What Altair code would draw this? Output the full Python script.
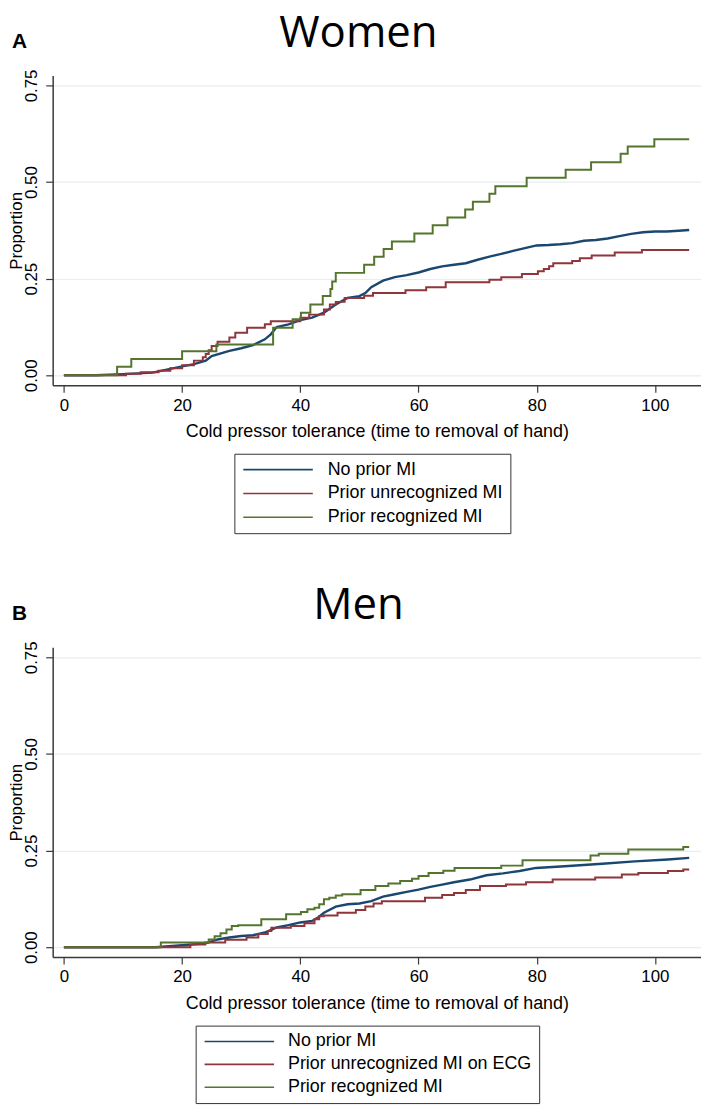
import altair as alt
import pandas as pd

# ---------------- data ----------------
names_women = ["No prior MI", "Prior unrecognized MI", "Prior recognized MI"]
names_men = ["No prior MI", "Prior unrecognized MI on ECG", "Prior recognized MI"]
line_colors = ["#1a476f", "#90353b", "#55752f"]
x_ticks = [0, 20, 40, 60, 80, 100]
y_ticks = [0, 0.25, 0.5, 0.75]

# Women (panel A)
w_none_t = [0, 5.4, 10, 15, 20, 22, 24, 25, 28, 30, 32, 34, 35, 36, 38, 40, 42, 44, 46, 48, 50, 51, 52, 54,
            56, 58, 60, 62, 64, 66, 68, 70, 72, 74, 76, 78, 80, 82, 84, 86, 88, 90, 92, 94, 96, 98, 100, 102,
            104, 105.8]
w_none_p = [0, 0, 0.003, 0.007, 0.023, 0.029, 0.038, 0.050, 0.063, 0.070, 0.078, 0.093, 0.106, 0.125, 0.132,
            0.143, 0.149, 0.162, 0.183, 0.200, 0.205, 0.213, 0.228, 0.245, 0.254, 0.259, 0.266, 0.275, 0.282,
            0.286, 0.290, 0.299, 0.307, 0.314, 0.322, 0.329, 0.336, 0.337, 0.339, 0.342, 0.348, 0.350, 0.354,
            0.360, 0.366, 0.370, 0.372, 0.372, 0.374, 0.376]
w_unrec_t = [0, 9.4, 10.5, 13, 16, 18, 20, 22, 23.5, 24, 24.5, 25, 26, 28, 29, 31, 34, 35, 40, 41.5, 44, 45,
             46, 47.5, 50.8, 52.3, 57.8, 61.3, 64.6, 72.0, 74.0, 77.5, 80.2, 81.2, 82.1, 82.8, 86.0, 87.3,
             89.3, 93.2, 97.8, 105.8]
w_unrec_p = [0, 0, 0.004, 0.008, 0.012, 0.018, 0.026, 0.038, 0.047, 0.055, 0.065, 0.076, 0.087, 0.098, 0.110,
             0.123, 0.132, 0.140, 0.149, 0.157, 0.170, 0.183, 0.190, 0.200, 0.206, 0.213, 0.220, 0.228, 0.241,
             0.247, 0.254, 0.262, 0.269, 0.275, 0.282, 0.290, 0.296, 0.303, 0.310, 0.318, 0.324, 0.324]
w_rec_t = [0, 9.0, 11.4, 20.0, 25.8, 35.4, 38.7, 40.1, 41.7, 43.8, 45.1, 45.4, 46.0, 50.8, 52.5, 54.1, 55.5,
           59.3, 62.4, 64.9, 67.9, 69.2, 72.0, 73.0, 78.3, 84.9, 89.2, 94.2, 95.4, 99.9, 105.8]
w_rec_p = [0, 0.022, 0.042, 0.062, 0.080, 0.123, 0.145, 0.162, 0.183, 0.205, 0.223, 0.243, 0.265, 0.286, 0.307,
           0.327, 0.346, 0.367, 0.388, 0.408, 0.429, 0.449, 0.470, 0.489, 0.511, 0.532, 0.551, 0.573, 0.592,
           0.611, 0.611]

# Men (panel B)
m_none_t = [0, 15.5, 20, 24, 26, 28, 30, 32, 34, 36, 38, 40, 42, 43, 44, 46, 48, 50, 52, 54, 56, 58, 60, 62,
            64, 66, 68.7, 71.5, 74.3, 77.1, 79.9, 85.4, 91.1, 96.6, 102.2, 105.8]
m_none_p = [0, 0, 0.005, 0.010, 0.020, 0.025, 0.029, 0.031, 0.038, 0.051, 0.057, 0.064, 0.068, 0.077, 0.089,
            0.105, 0.111, 0.113, 0.119, 0.131, 0.137, 0.143, 0.149, 0.156, 0.162, 0.168, 0.175, 0.186, 0.191,
            0.197, 0.205, 0.210, 0.216, 0.222, 0.227, 0.231]
m_unrec_t = [0, 21.4, 23.9, 27.3, 30.9, 32.9, 34.5, 35.1, 38.4, 40.7, 42.4, 43.2, 44.0, 46.3, 49.4, 51.0, 52.4,
             53.8, 61.1, 64, 66, 68, 70.4, 74.8, 78.2, 82.7, 89.9, 94.4, 97.2, 102.2, 104.8, 105.8]
m_unrec_p = [0, 0.007, 0.012, 0.019, 0.025, 0.034, 0.042, 0.050, 0.055, 0.062, 0.072, 0.080, 0.082, 0.089,
             0.096, 0.105, 0.113, 0.119, 0.128, 0.135, 0.140, 0.148, 0.158, 0.162, 0.168, 0.175, 0.180, 0.188,
             0.192, 0.197, 0.201, 0.201]
m_rec_t = [0, 16.4, 24.5, 25.5, 26.5, 27.5, 28.4, 29.5, 33.4, 37.6, 40.1, 41.2, 42.4, 43.2, 44.0, 44.9, 46.0,
           47.1, 50.2, 52.7, 54.9, 56.9, 58.9, 60.0, 61.7, 64.2, 66.1, 74.0, 77.6, 89.1, 90.5, 95.5, 104.8, 105.8]
m_rec_p = [0, 0.012, 0.020, 0.028, 0.036, 0.046, 0.055, 0.057, 0.072, 0.085, 0.091, 0.098, 0.102, 0.111, 0.124,
           0.128, 0.134, 0.137, 0.148, 0.158, 0.165, 0.171, 0.177, 0.184, 0.192, 0.198, 0.205, 0.211, 0.225,
           0.237, 0.242, 0.253, 0.259, 0.259]


def build_frame(names, series):
    rows = []
    for name, (ts, ps) in zip(names, series):
        for i, (t, p) in enumerate(zip(ts, ps)):
            rows.append({"series": name, "t": t, "p": p, "i": i})
    return pd.DataFrame(rows)


df_women = build_frame(names_women, [(w_none_t, w_none_p), (w_unrec_t, w_unrec_p), (w_rec_t, w_rec_p)])
df_men = build_frame(names_men, [(m_none_t, m_none_p), (m_unrec_t, m_unrec_p), (m_rec_t, m_rec_p)])

AX_COL = "#3a3a3a"
PLOT_W = 653
PLOT_H = 312


def panel(df, names, letter, title, lx, ly, label_offset, lpad, row_pad):
    x = alt.X("t:Q",
              scale=alt.Scale(domain=[-1.9, 107.8], nice=False, zero=False),
              axis=alt.Axis(values=x_ticks, title="Cold pressor tolerance (time to removal of hand)",
                            grid=False, tickSize=7, tickWidth=1.2, tickColor=AX_COL,
                            domainColor=AX_COL, domainWidth=1.5,
                            labelFont="Liberation Sans", labelFontSize=17, labelColor="black",
                            labelPadding=5, labelFlush=False,
                            titleFont="Liberation Sans", titleFontSize=18, titleFontWeight="normal",
                            titleColor="black", titlePadding=10))
    y = alt.Y("p:Q",
              scale=alt.Scale(domain=[-0.0257, 0.7757], nice=False, zero=False),
              axis=alt.Axis(values=y_ticks, format=".2f", title="Proportion",
                            grid=True, gridColor="#e6eef1", gridWidth=1.2,
                            tickSize=7, tickWidth=1.2, tickColor=AX_COL,
                            domainColor=AX_COL, domainWidth=1.5,
                            labelAngle=270, labelAlign="center", labelBaseline="bottom",
                            labelFont="Liberation Sans", labelFontSize=17, labelColor="black",
                            labelPadding=5, labelFlush=False,
                            titleFont="Liberation Sans", titleFontSize=17, titleFontWeight="normal",
                            titleColor="black", titlePadding=-3))
    color = alt.Color("series:N", sort=names,
                      scale=alt.Scale(domain=names, range=line_colors),
                      legend=alt.Legend(title=None, orient="none", legendX=lx, legendY=ly,
                                        direction="vertical", symbolType="M-1,0H9", symbolSize=196,
                                        symbolStrokeWidth=1.6, labelFont="Liberation Sans",
                                        labelFontSize=18, labelColor="black", labelLimit=400,
                                        labelOffset=label_offset, strokeColor="#333333",
                                        padding=lpad, rowPadding=row_pad))
    base = alt.Chart(df)
    smooth = base.transform_filter(alt.datum.series == names[0]).mark_line(
        strokeWidth=2.4, interpolate="linear").encode(x=x, y=y, color=color, order="i:Q")
    steps = base.transform_filter(alt.datum.series != names[0]).mark_line(
        strokeWidth=2.0, interpolate="step-after").encode(x=x, y=y, color=color, order="i:Q")
    tag = alt.Chart(pd.DataFrame({"label": [letter]})).mark_text(
        align="left", baseline="alphabetic", font="Liberation Sans", fontSize=21,
        fontWeight="bold", color="black").encode(text="label:N", x=alt.value(-41), y=alt.value(-28))
    head = alt.Chart(pd.DataFrame({"label": [title]})).mark_text(
        align="center", baseline="alphabetic", font="Open Sans", fontSize=44,
        fontWeight="normal", color="black").encode(text="label:N", x=alt.value(308), y=alt.value(-29))
    return alt.layer(smooth, steps, tag, head).properties(width=PLOT_W, height=PLOT_H)


women = panel(df_women, names_women, "A", "Women", 183, 381, 69, 7, 6)
men = panel(df_men, names_men, "B", "Men", 144, 381, 68, 7, 5)

chart = alt.vconcat(women, men, spacing=50).resolve_scale(color="independent").resolve_legend(
    color="independent").properties(
    padding={"left": 0, "top": 0, "right": 0, "bottom": 0}, background="white"
).configure_view(stroke=None)

chart.save("out.html", embed_options={"renderer": "svg", "actions": False})
